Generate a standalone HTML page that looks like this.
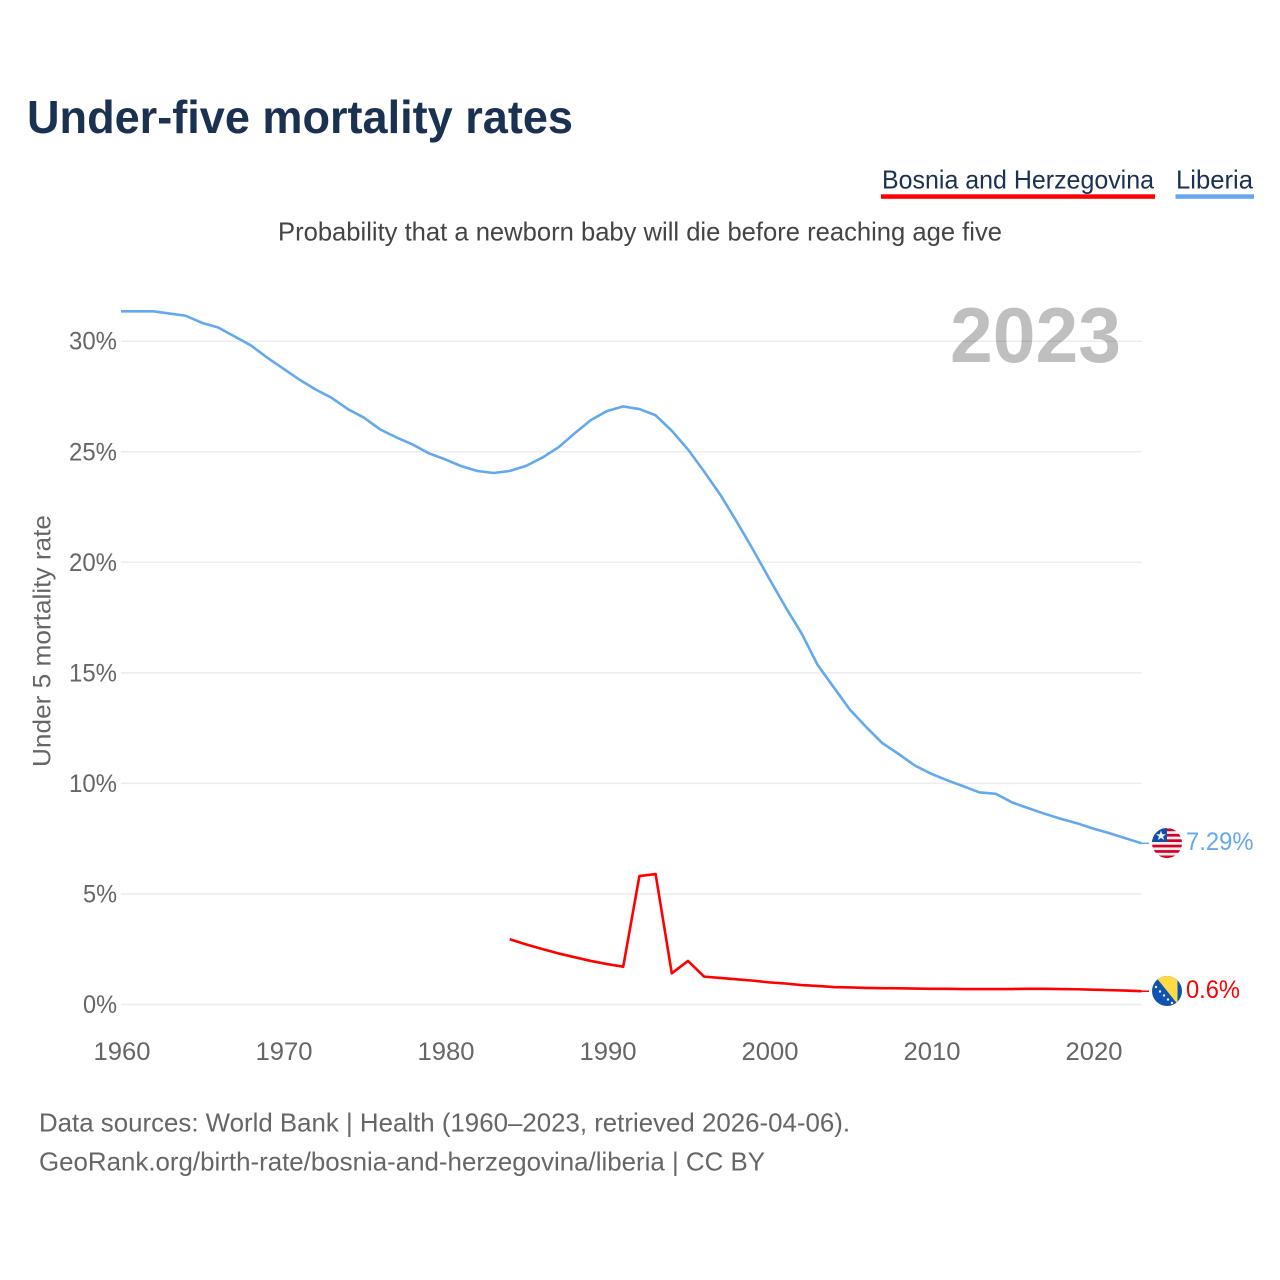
<!DOCTYPE html>
<html lang="en">
<head>
<meta charset="utf-8">
<title>Under-five mortality rates</title>
<style>
html,body{margin:0;padding:0;background:#fff;}
svg{display:block;font-family:"Liberation Sans",sans-serif;}
</style>
</head>
<body>
<svg id="chart" xmlns="http://www.w3.org/2000/svg" width="1280" height="1280" viewBox="0 0 1280 1280">
  <defs>
    <clipPath id="clip-lr"><circle cx="1167" cy="843" r="15"/></clipPath>
    <clipPath id="clip-ba"><circle cx="1167" cy="991" r="15"/></clipPath>
  </defs>
  <rect x="0" y="0" width="1280" height="1280" fill="#ffffff"/>
  <text x="27" y="133" font-size="46" font-weight="700" fill="#1a3152" textLength="546" lengthAdjust="spacingAndGlyphs">Under-five mortality rates</text>

  <g>
    <text x="882" y="188.5" font-size="26" fill="#1a3152" textLength="272" lengthAdjust="spacingAndGlyphs">Bosnia and Herzegovina</text>
    <rect x="881" y="194.3" width="274" height="4.5" fill="#ff0000"/>
  </g>
  <g>
    <text x="1176" y="188.5" font-size="26" fill="#1a3152" textLength="77" lengthAdjust="spacingAndGlyphs">Liberia</text>
    <rect x="1175.5" y="194.3" width="78.5" height="4.5" fill="#64a8ee"/>
  </g>

  <text x="278" y="240.5" font-size="26" fill="#444444" textLength="724" lengthAdjust="spacingAndGlyphs">Probability that a newborn baby will die before reaching age five</text>

  <g id="grid"></g>
  <g id="yticks"></g>
  <g id="xticks"></g>

  <text x="950" y="362" font-size="78" font-weight="700" fill="#000000" fill-opacity="0.25" textLength="171" lengthAdjust="spacingAndGlyphs">2023</text>
  <text transform="translate(50.5 767) rotate(-90)" font-size="25" fill="#666666" textLength="252" lengthAdjust="spacingAndGlyphs">Under 5 mortality rate</text>

  <polyline id="line-liberia" fill="none" stroke="#64a8ee" stroke-width="2.6" stroke-linejoin="round"/>
  <polyline id="line-bosnia" fill="none" stroke="#ff0000" stroke-width="2.6" stroke-linejoin="round"/>
  <line id="lead-liberia" stroke="#64a8ee" stroke-width="1.5"/>
  <line id="lead-bosnia" stroke="#ff0000" stroke-width="1.5"/>

  <g clip-path="url(#clip-lr)">
    <rect x="1152" y="828" width="30" height="30" fill="#f0f0f0"/>
    <rect x="1152" y="828.5" width="30" height="2.7" fill="#d80027"/>
    <rect x="1152" y="833.9" width="30" height="2.7" fill="#d80027"/>
    <rect x="1152" y="839.3" width="30" height="2.7" fill="#d80027"/>
    <rect x="1152" y="844.7" width="30" height="2.7" fill="#d80027"/>
    <rect x="1152" y="850.1" width="30" height="2.7" fill="#d80027"/>
    <rect x="1152" y="855.5" width="30" height="2.7" fill="#d80027"/>
    <rect x="1152" y="828" width="15" height="14" fill="#0f4fa8"/>
    <polygon points="1161,830.5 1162.3,834.2 1166,834.2 1163,836.5 1164.2,840 1161,837.9 1157.8,840 1159,836.5 1156,834.2 1159.7,834.2" fill="#f0f0f0"/>
  </g>
  <g clip-path="url(#clip-ba)">
    <rect x="1152" y="976" width="30" height="30" fill="#0f52b0"/>
    <polygon points="1155,976 1177.5,976 1177.5,1004" fill="#ffda44"/>
    <circle cx="1156" cy="987" r="1.2" fill="#f0f0f0"/>
    <circle cx="1160" cy="991.5" r="1.2" fill="#f0f0f0"/>
    <circle cx="1164" cy="995.5" r="1.2" fill="#f0f0f0"/>
    <circle cx="1168" cy="999.5" r="1.2" fill="#f0f0f0"/>
    <circle cx="1172" cy="1003" r="1.2" fill="#f0f0f0"/>
  </g>

  <text id="end-label-liberia" x="1186" y="850" font-size="25" fill="#64a8ee" textLength="67.5" lengthAdjust="spacingAndGlyphs">7.29%</text>
  <text id="end-label-bosnia" x="1186" y="998" font-size="25" fill="#ff0000" textLength="54" lengthAdjust="spacingAndGlyphs">0.6%</text>

  <text x="39" y="1131.5" font-size="26" fill="#666666" textLength="811" lengthAdjust="spacingAndGlyphs">Data sources: World Bank | Health (1960–2023, retrieved 2026-04-06).</text>
  <text x="39" y="1170.5" font-size="26" fill="#666666" textLength="726" lengthAdjust="spacingAndGlyphs">GeoRank.org/birth-rate/bosnia-and-herzegovina/liberia | CC BY</text>
</svg>
<script>
var yTicks = [0, 5, 10, 15, 20, 25, 30];
var xTicks = [1960, 1970, 1980, 1990, 2000, 2010, 2020];
var liberiaStart = 1960;
var liberiaValues = [31.35,31.35,31.35,31.25,31.15,30.83,30.62,30.22,29.82,29.27,28.77,28.27,27.82,27.44,26.93,26.54,26.01,25.65,25.33,24.93,24.66,24.35,24.13,24.04,24.13,24.36,24.73,25.2,25.83,26.43,26.84,27.05,26.93,26.65,25.95,25.1,24.1,23.05,21.85,20.59,19.28,18.0,16.8,15.36,14.34,13.33,12.55,11.82,11.33,10.81,10.44,10.14,9.87,9.59,9.53,9.14,8.88,8.63,8.40,8.2,7.96,7.75,7.52,7.29];
var bosniaStart = 1984;
var bosniaValues = [2.95,2.72,2.51,2.31,2.14,1.97,1.83,1.71,5.81,5.9,1.41,1.97,1.26,1.2,1.14,1.08,1.0,0.95,0.88,0.84,0.79,0.77,0.75,0.74,0.73,0.72,0.71,0.71,0.7,0.7,0.7,0.7,0.71,0.71,0.7,0.69,0.67,0.65,0.63,0.6];

var NS = 'http://www.w3.org/2000/svg';
function xScale(year) { return 121 + (year - 1960) * 16.2; }
function yScale(v) { return 1004.5 - v * 22.11; }
function pointsFor(start, values) {
  return values.map(function (v, i) {
    return xScale(start + i).toFixed(2) + ',' + yScale(v).toFixed(2);
  }).join(' ');
}

var grid = document.getElementById('grid');
var yG = document.getElementById('yticks');
var xG = document.getElementById('xticks');

yTicks.forEach(function (t) {
  var l = document.createElementNS(NS, 'line');
  
  
  l.setAttribute('x1', xScale(1960));
  l.setAttribute('x2', xScale(2023));
  l.setAttribute('y1', yScale(t));
  l.setAttribute('y2', yScale(t));
  l.setAttribute('stroke', '#ececec');
  l.setAttribute('stroke-width', '1.5');
  grid.appendChild(l);

  var s = t + '%';
  var e = document.createElementNS(NS, 'text');
  
  
  var w = s.length === 3 ? 48 : 34;
  e.setAttribute('x', 117 - w);
  e.setAttribute('y', yScale(t) + 8.5);
  e.setAttribute('font-size', '25');
  e.setAttribute('fill', '#666666');
  e.setAttribute('textLength', w);
  e.setAttribute('lengthAdjust', 'spacingAndGlyphs');
  e.textContent = s;
  yG.appendChild(e);
});

xTicks.forEach(function (t) {
  var e = document.createElementNS(NS, 'text');
  
  
  e.setAttribute('x', xScale(t) - 27.5);
  e.setAttribute('y', 1060);
  e.setAttribute('font-size', '25');
  e.setAttribute('fill', '#666666');
  e.setAttribute('textLength', 57);
  e.setAttribute('lengthAdjust', 'spacingAndGlyphs');
  e.textContent = t;
  xG.appendChild(e);
});

document.getElementById('line-liberia').setAttribute('points', pointsFor(liberiaStart, liberiaValues));
document.getElementById('line-bosnia').setAttribute('points', pointsFor(bosniaStart, bosniaValues));

function setLeader(id, lastValue, endX) {
  var el = document.getElementById(id);
  el.setAttribute('x1', xScale(2023));
  el.setAttribute('x2', endX);
  el.setAttribute('y1', yScale(lastValue));
  el.setAttribute('y2', yScale(lastValue));
}
setLeader('lead-liberia', liberiaValues[liberiaValues.length - 1], 1149);
setLeader('lead-bosnia', bosniaValues[bosniaValues.length - 1], 1149);
</script>
</body>
</html>
